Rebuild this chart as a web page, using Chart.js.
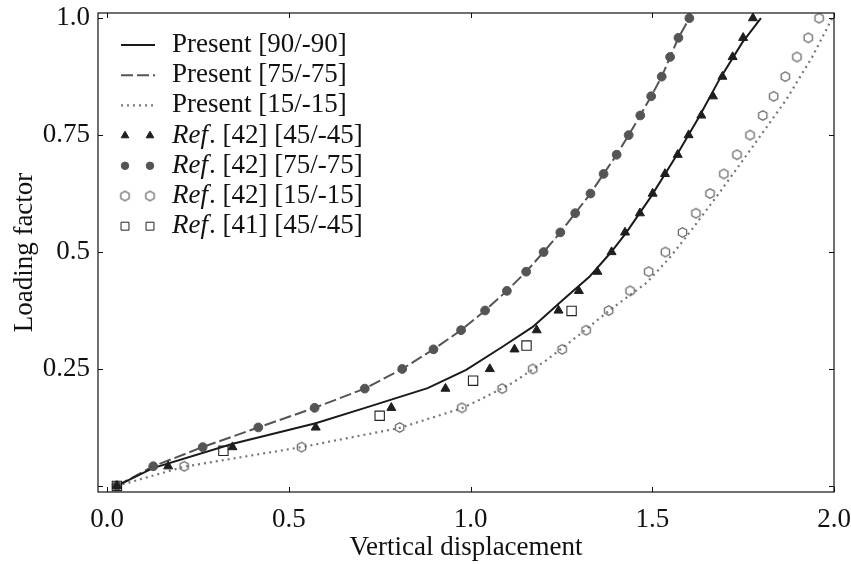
<!DOCTYPE html>
<html lang="en">
  <head>
    <meta charset="UTF-8" />
    <title>Loading factor vs vertical displacement</title>
    <script src="https://cdn.jsdelivr.net/npm/chart.js"></script>
    <style>
      html, body { margin: 0; padding: 0; background: #fff; }
      .grafico { width: 851px; height: 564px; }
    </style>
  </head>
  <body>
    <div class="grafico">
      <canvas id="myCanvas" width="851" height="564"></canvas>
    </div>
  </body>
</html>
<script>
  // ---- data ----
  const xTicks = [0, 0.5, 1.0, 1.5, 2.0];
  const yTicks = [0, 0.25, 0.5, 0.75, 1.0];
  const yTickLabels = ["", "0.25", "0.5", "0.75", "1.0"];

  // Present [90/-90] (solid)
  const present90X = [0.027, 0.126, 0.346, 0.574, 0.723, 0.882, 0.988, 1.089, 1.171, 1.253, 1.327, 1.387, 1.428, 1.496, 1.565, 1.629, 1.684, 1.747, 1.799];
  const present90Y = [0, 0.038, 0.090, 0.134, 0.170, 0.209, 0.248, 0.298, 0.340, 0.397, 0.447, 0.500, 0.541, 0.618, 0.704, 0.789, 0.868, 0.947, 1.000];

  // Present [75/-75] (dashed)
  const present75X = [0.027, 0.127, 0.263, 0.416, 0.571, 0.709, 0.812, 0.898, 0.974, 1.040, 1.100, 1.153, 1.201, 1.247, 1.288, 1.330, 1.366, 1.402, 1.435, 1.467, 1.497, 1.526, 1.549, 1.572, 1.602];
  const present75Y = [0, 0.042, 0.083, 0.125, 0.167, 0.208, 0.250, 0.292, 0.333, 0.375, 0.417, 0.458, 0.500, 0.542, 0.583, 0.625, 0.667, 0.708, 0.750, 0.792, 0.833, 0.875, 0.917, 0.958, 1.000];

  // Present [15/-15] (dotted)
  const present15X = [0.027, 0.212, 0.535, 0.805, 0.976, 1.025, 1.115, 1.209, 1.299, 1.390, 1.484, 1.547, 1.602, 1.684, 1.775, 1.868, 1.940, 1.995];
  const present15Y = [0, 0.041, 0.083, 0.124, 0.166, 0.184, 0.220, 0.269, 0.323, 0.380, 0.434, 0.487, 0.541, 0.626, 0.724, 0.825, 0.917, 1.000];

  // reference load levels
  const refLoad = [0, 0.042, 0.083, 0.125, 0.167, 0.208, 0.250, 0.292, 0.333, 0.375, 0.417, 0.458, 0.500, 0.542, 0.583, 0.625, 0.667, 0.708, 0.750, 0.792, 0.833, 0.875, 0.917, 0.958, 1.000];

  // Ref. [42] [45/-45] (triangles)
  const ref42_45X = [0.027, 0.168, 0.345, 0.574, 0.782, 0.931, 1.053, 1.121, 1.182, 1.242, 1.298, 1.349, 1.388, 1.425, 1.466, 1.501, 1.535, 1.570, 1.600, 1.635, 1.667, 1.693, 1.721, 1.750, 1.777];
  // Ref. [42] [75/-75] (filled circles)
  const ref42_75X = [0.027, 0.127, 0.263, 0.416, 0.571, 0.709, 0.812, 0.898, 0.974, 1.040, 1.100, 1.153, 1.201, 1.247, 1.288, 1.330, 1.366, 1.402, 1.435, 1.467, 1.497, 1.526, 1.549, 1.572, 1.602];
  // Ref. [42] [15/-15] (open hexagons)
  const ref42_15X = [0.027, 0.212, 0.535, 0.805, 0.976, 1.087, 1.171, 1.252, 1.318, 1.380, 1.439, 1.490, 1.536, 1.583, 1.620, 1.659, 1.697, 1.733, 1.769, 1.804, 1.834, 1.866, 1.898, 1.929, 1.959];
  // Ref. [41] [45/-45] (open squares)
  const ref41_45X = [0.027, 0.320, 0.750, 1.007, 1.154, 1.278];
  const ref41_45Y = [0, 0.075, 0.150, 0.225, 0.300, 0.374];

  function pares(xs, ys) {
    let out = [];
    for (let i = 0; i < xs.length; i++) {
      out.push({ x: xs[i], y: ys[i] });
    }
    return out;
  }

  // hexagon marker
  const hexagono = document.createElement("canvas");
  hexagono.width = 13;
  hexagono.height = 13;
  (function () {
    const c = hexagono.getContext("2d");
    c.strokeStyle = "#5f5f5f";
    c.lineWidth = 1.2;
    c.beginPath();
    for (let i = 0; i < 6; i++) {
      const a = Math.PI / 2 + i * Math.PI / 3;
      const px = 6.5 + 4.8 * Math.cos(a);
      const py = 6.5 - 4.8 * Math.sin(a);
      if (i === 0) c.moveTo(px, py); else c.lineTo(px, py);
    }
    c.closePath();
    c.stroke();
  })();

  const fonte = "'Liberation Serif', 'DejaVu Serif', serif";

  const datasets = [
    {
      label: "Ref42_45", data: pares(ref42_45X, refLoad), showLine: false,
      pointStyle: "triangle", pointRadius: 5.2, backgroundColor: "#1e1e1e", borderColor: "#1e1e1e", borderWidth: 1, order: 1,
    },
    {
      label: "Ref42_75", data: pares(ref42_75X, refLoad), showLine: false,
      pointStyle: "circle", pointRadius: 4.4, backgroundColor: "#555555", borderColor: "#555555", borderWidth: 1, order: 2,
    },
    {
      label: "Ref42_15", data: pares(ref42_15X, refLoad), showLine: false,
      pointStyle: hexagono, pointRadius: 5, backgroundColor: "#5f5f5f", borderColor: "#5f5f5f", order: 3,
    },
    {
      label: "Ref41_45", data: pares(ref41_45X, ref41_45Y), showLine: false,
      pointStyle: "rect", pointRadius: 6.6, backgroundColor: "rgba(255,255,255,0)", borderColor: "#222222", borderWidth: 1.1, order: 0,
    },
    {
      label: "Present90", data: pares(present90X, present90Y), showLine: true, pointRadius: 0,
      borderColor: "#1a1a1a", borderWidth: 2, fill: false, tension: 0, order: 5,
    },
    {
      label: "Present75", data: pares(present75X, present75Y), showLine: true, pointRadius: 0,
      borderColor: "#555555", borderWidth: 2, borderDash: [12, 4], fill: false, tension: 0, order: 6,
    },
    {
      label: "Present15", data: pares(present15X, present15Y), showLine: true, pointRadius: 0,
      borderColor: "#777777", borderWidth: 2.2, borderDash: [2, 4], fill: false, tension: 0, order: 7,
    },
  ];

  // legend rows: [dataset index, italic part, rest]
  const legenda = [
    [4, "", "Present [90/-90]"],
    [5, "", "Present [75/-75]"],
    [6, "", "Present [15/-15]"],
    [0, "Ref", ". [42] [45/-45]"],
    [1, "Ref", ". [42] [75/-75]"],
    [2, "Ref", ". [42] [15/-15]"],
    [3, "Ref", ". [41] [45/-45]"],
  ];

  const pluginMoldura = {
    id: "moldura",
    afterDraw(chart) {
      const ctx = chart.ctx;
      const a = chart.chartArea;
      const sx = chart.scales.x;
      const sy = chart.scales.y;
      ctx.save();
      ctx.strokeStyle = "#111";
      ctx.lineWidth = 1.2;
      ctx.strokeRect(a.left, a.top, a.right - a.left, a.bottom - a.top);
      ctx.lineWidth = 1;
      ctx.beginPath();
      xTicks.forEach(function (v) {
        const px = Math.round(sx.getPixelForValue(v)) + 0.5;
        ctx.moveTo(px, a.bottom); ctx.lineTo(px, a.bottom - 5);
        ctx.moveTo(px, a.top); ctx.lineTo(px, a.top + 5);
      });
      yTicks.forEach(function (v) {
        const py = Math.round(sy.getPixelForValue(v)) + 0.5;
        ctx.moveTo(a.left, py); ctx.lineTo(a.left + 5, py);
        ctx.moveTo(a.right, py); ctx.lineTo(a.right - 5, py);
      });
      ctx.stroke();

      // legend
      const x0 = 121, x1 = 155, tx = 172;
      let y = 45;
      ctx.textBaseline = "middle";
      legenda.forEach(function (item) {
        const ds = chart.data.datasets[item[0]];
        if (ds.showLine) {
          ctx.save();
          ctx.strokeStyle = ds.borderColor;
          ctx.lineWidth = ds.borderWidth;
          ctx.setLineDash(ds.borderDash || []);
          ctx.beginPath();
          ctx.moveTo(x0, y); ctx.lineTo(x1, y);
          ctx.stroke();
          ctx.restore();
        } else {
          ctx.save();
          ctx.fillStyle = ds.backgroundColor;
          ctx.strokeStyle = ds.borderColor;
          [125, 150].forEach(function (mx) {
            Chart.helpers.drawPoint(ctx, {
              pointStyle: ds.pointStyle, radius: ds.pointRadius * 0.85, rotation: 0, borderWidth: ds.borderWidth || 1,
            }, mx, y);
          });
          ctx.restore();
        }
        let cx = tx;
        ctx.fillStyle = "#111";
        if (item[1]) {
          ctx.font = "italic 27px " + fonte;
          ctx.fillText(item[1], cx, y);
          cx += ctx.measureText(item[1]).width + 1;
        }
        ctx.font = "27px " + fonte;
        ctx.fillText(item[2], cx, y);
        y += 30.2;
      });
      ctx.restore();
    },
  };

  const config = {
    type: "scatter",
    data: { datasets: datasets },
    options: {
      responsive: false,
      animation: false,
      layout: { padding: { top: 13, right: 17, left: 0, bottom: 0 } },
      plugins: { legend: { display: false }, tooltip: { enabled: false } },
      scales: {
        x: {
          type: "linear",
          min: -0.025,
          max: 2.0,
          afterBuildTicks: function (scale) {
            scale.ticks = xTicks.map(function (v) { return { value: v }; });
          },
          afterFit: function (scale) {
            scale.height = 72;
            scale.paddingLeft = 0;
            scale.paddingRight = 0;
          },
          ticks: {
            color: "#111",
            padding: 12,
            maxRotation: 0,
            font: { family: fonte, size: 27 },
            callback: function (v) { return Number(v).toFixed(1); },
          },
          grid: { display: false, drawTicks: false },
          border: { display: false },
          title: {
            display: true,
            text: "Vertical displacement",
            color: "#111",
            font: { family: fonte, size: 27 },
            padding: { top: 0, bottom: 0 },
          },
        },
        y: {
          type: "linear",
          min: -0.013,
          max: 1.011,
          afterBuildTicks: function (scale) {
            scale.ticks = yTicks.map(function (v) { return { value: v }; });
          },
          afterFit: function (scale) {
            scale.width = 98;
            scale.paddingTop = 0;
            scale.paddingBottom = 0;
          },
          ticks: {
            color: "#111",
            padding: 8,
            font: { family: fonte, size: 27 },
            callback: function (v, i) { return yTickLabels[i]; },
          },
          grid: { display: false, drawTicks: false },
          border: { display: false },
          title: {
            display: true,
            text: "Loading factor",
            color: "#111",
            font: { family: fonte, size: 27 },
            padding: { top: 9, bottom: 6 },
          },
        },
      },
    },
    plugins: [pluginMoldura],
  };

  new Chart(document.getElementById("myCanvas"), config);
</script>
